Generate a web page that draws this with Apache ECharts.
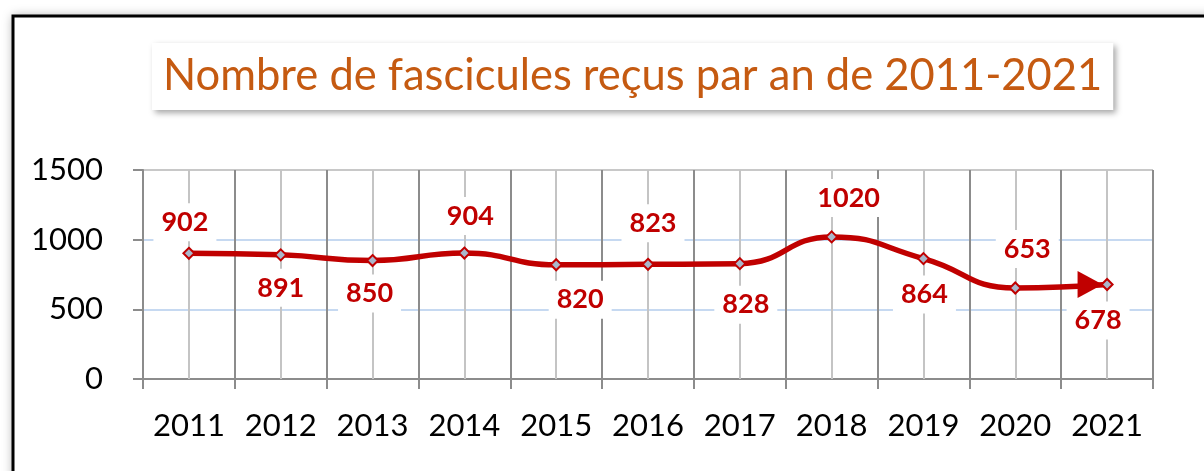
<!DOCTYPE html>
<html>
<head>
<meta charset="utf-8">
<script src="https://cdn.jsdelivr.net/npm/echarts@6/dist/echarts.min.js"></script>
<style>
  html, body { margin: 0; padding: 0; background: #ffffff; }
  #chart { width: 1204px; height: 471px; }
</style>
</head>
<body>
<div id="chart"></div>
<script>
// Years on the horizontal axis
const years = ['2011', '2012', '2013', '2014', '2015', '2016', '2017', '2018', '2019', '2020', '2021'];
// Number of issues received each year
const fascicules = [902, 891, 850, 904, 820, 823, 828, 1020, 864, 653, 678];
// Vertical scale
const yMin = 0;
const yMax = 1500;
const yStep = 500;

const titleText = 'Nombre de fascicules reçus par an de 2011-2021';

// Hand placement of each value label relative to its point [dx, dy]
const labelNudge = [
  [-4, -31], [0, 33], [-3, 33], [6, -37], [24, 35], [5, -41],
  [6, 41], [17, -39], [1, 36], [12, -39], [-9, 36]
];

const RED = '#C00000';
const FONT = 'Lato, "Open Sans", sans-serif';

const chart = echarts.init(document.getElementById('chart'), null, { renderer: 'canvas' });

const last = years.length - 1;

chart.setOption({
  backgroundColor: '#ffffff',
  animation: false,
  graphic: [
    {
      // frame shadow
      type: 'rect', silent: true, z: -2,
      shape: { x: 13, y: 16, width: 1400, height: 700 },
      style: { fill: '#ffffff', shadowBlur: 10, shadowColor: 'rgba(0,0,0,0.35)' }
    },
    {
      // frame
      type: 'rect', silent: true, z: -1,
      shape: { x: 13, y: 16, width: 1400, height: 700 },
      style: { fill: 'none', stroke: '#000000', lineWidth: 3 }
    }
  ],
  title: {
    text: titleText,
    left: 152,
    top: 43,
    padding: [9, 11, 10, 11],
    backgroundColor: '#ffffff',
    shadowBlur: 6,
    shadowColor: 'rgba(0,0,0,0.35)',
    shadowOffsetX: 3,
    shadowOffsetY: 3,
    textStyle: {
      fontFamily: FONT,
      fontSize: 43.5,
      fontWeight: 'normal',
      color: '#C55A11',
      lineHeight: 48
    }
  },
  grid: { left: 143, right: 51, top: 170, bottom: 92 },
  xAxis: {
    type: 'category',
    data: years,
    boundaryGap: true,
    axisLine: { show: true, lineStyle: { color: '#8c8c8c', width: 2 } },
    axisTick: { show: true, interval: 0, length: 10, lineStyle: { color: '#8c8c8c', width: 2 } },
    splitLine: { show: true, interval: 0, lineStyle: { color: '#8c8c8c', width: 2 } },
    axisLabel: { interval: 0, fontFamily: FONT, fontSize: 31, color: '#000000', margin: 31 }
  },
  yAxis: {
    type: 'value',
    min: yMin,
    max: yMax,
    interval: yStep,
    axisLine: { show: true, lineStyle: { color: '#8c8c8c', width: 2 } },
    axisTick: { show: true, length: 10, lineStyle: { color: '#8c8c8c', width: 2 } },
    splitLine: {
      show: true,
      lineStyle: { color: ['#8c8c8c', '#c6d9f1', '#c6d9f1', '#c8c8c8'], width: 2 }
    },
    axisLabel: {
      fontFamily: FONT, fontSize: 31, color: '#000000', margin: 40,
      formatter: v => String(v)
    }
  },
  series: [
    {
      type: 'line',
      z: 3,
      smooth: 0.5,
      data: fascicules.map((v, i) => ({ value: v, label: { offset: labelNudge[i] } })),
      symbol: 'diamond',
      symbolSize: 11,
      itemStyle: { color: '#aab7cb', borderColor: RED, borderWidth: 2 },
      lineStyle: { color: RED, width: 5.5 },
      label: {
        show: true,
        position: 'inside',
        fontFamily: FONT,
        fontWeight: 'bold',
        fontSize: 27,
        lineHeight: 24,
        color: RED,
        backgroundColor: '#ffffff',
        padding: [5, 8, 9, 8]
      },
      markLine: {
        silent: true,
        z: 1,
        symbol: 'none',
        label: { show: false },
        lineStyle: { color: '#c4c4c4', width: 2, type: 'solid' },
        data: years.map(y => ({ xAxis: y }))
      },
      markPoint: {
        silent: true,
        symbol: 'triangle',
        symbolSize: [27, 25],
        symbolRotate: -90,
        symbolOffset: [-17, 0],
        itemStyle: { color: RED },
        label: { show: false },
        data: [{ coord: [years[last], fascicules[last]] }]
      }
    }
  ]
});
</script>
</body>
</html>
